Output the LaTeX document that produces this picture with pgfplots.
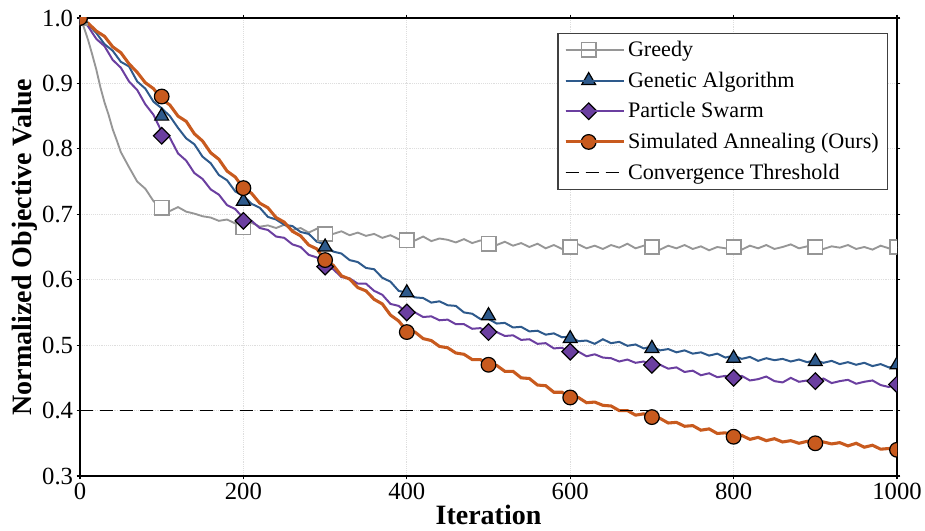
\documentclass[border=0pt]{standalone}
\usepackage{fontspec}
\setmainfont{Liberation Serif}
\usepackage{pgfplots}
\pgfplotsset{compat=1.18}
\definecolor{cGray}{RGB}{150,150,150}
\definecolor{cBlue}{RGB}{46,90,140}
\definecolor{cPurp}{RGB}{107,63,160}
\definecolor{cOran}{RGB}{200,90,30}
\begin{document}
\begin{tikzpicture}
\path[use as bounding box] (-60pt,-41.25pt) rectangle (633.75pt,357pt);
\begin{axis}[
  at={(0,0)}, anchor=south west,
  scale only axis, width=612.75pt, height=343.5pt,
  xmin=0, xmax=1000, ymin=0.3, ymax=1.0,
  xtick={0,200,400,600,800,1000},
  ytick={0.3,0.4,0.5,0.6,0.7,0.8,0.9,1.0},
  yticklabel style={/pgf/number format/.cd,fixed,fixed zerofill,precision=1},
  /pgf/number format/1000 sep={},
  /pgf/number format/assume math mode=true,
  tick label style={font=\rmfamily\fontsize{18.5}{20}\selectfont, inner sep=2.5pt},
  label style={font=\rmfamily\fontsize{21}{23}\selectfont\bfseries},
  xlabel={Iteration}, ylabel={Normalized Objective Value},
  xlabel style={at={(axis description cs:0.5,-0.105)}, anchor=base},
  ylabel style={at={(axis description cs:-0.0588,0.5)}, anchor=base},
  tick align=outside, major tick length=2.5pt, tick style={black, line width=0.8pt},
  axis line style={line width=1.1pt},
  grid=major, major grid style={densely dotted, black!13, line width=0.6pt},
  clip marker paths=true,
  legend style={at={(0.989,0.968)}, anchor=north east, draw=black!75, line width=0.8pt,
    font=\rmfamily\fontsize{16.6}{18}\selectfont, inner xsep=4.5pt, inner ysep=4pt, row sep=6pt,
    cells={anchor=west}},
  legend image code/.code={\draw[mark repeat=2,mark phase=2,#1] plot coordinates {(0cm,0cm)(0.61cm,0cm)(1.22cm,0cm)};
    \path (0cm,0cm) -- (1.22cm+9pt,0cm);},
]
% ---- lines ----
\addplot[cGray, line width=1.4pt, forget plot] table {
0 1.000
5 0.985
10 0.966
15 0.944
20 0.921
25 0.894
30 0.871
35 0.852
40 0.830
45 0.813
50 0.795
60 0.772
70 0.750
80 0.739
90 0.720
100 0.708
110 0.705
120 0.711
130 0.704
140 0.701
150 0.697
160 0.695
170 0.690
180 0.692
190 0.686
200 0.685
210 0.687
220 0.681
230 0.683
240 0.679
250 0.684
260 0.676
270 0.679
280 0.672
290 0.678
300 0.673
310 0.670
320 0.674
330 0.668
340 0.672
350 0.667
360 0.670
370 0.664
380 0.668
390 0.662
400 0.664
410 0.660
420 0.666
430 0.659
440 0.663
450 0.661
460 0.657
470 0.662
480 0.656
490 0.660
500 0.657
510 0.653
520 0.658
530 0.652
540 0.656
550 0.650
560 0.655
570 0.648
580 0.653
590 0.647
600 0.650
610 0.654
620 0.648
630 0.652
640 0.647
650 0.653
660 0.649
670 0.655
680 0.648
690 0.652
700 0.650
710 0.646
720 0.652
730 0.648
740 0.653
750 0.647
760 0.651
770 0.645
780 0.650
790 0.648
800 0.651
810 0.646
820 0.652
830 0.648
840 0.653
850 0.647
860 0.650
870 0.654
880 0.648
890 0.651
900 0.652
910 0.647
920 0.651
930 0.649
940 0.653
950 0.647
960 0.650
970 0.646
980 0.652
990 0.648
1000 0.650
};
\addplot[cBlue, line width=1.5pt, forget plot] table {
0 1.000
10 0.990
20 0.977
30 0.960
40 0.950
50 0.933
60 0.926
70 0.903
80 0.892
90 0.872
100 0.862
110 0.850
120 0.832
130 0.816
140 0.807
150 0.788
160 0.778
170 0.760
180 0.752
190 0.735
200 0.728
210 0.716
220 0.710
230 0.696
240 0.692
250 0.684
260 0.682
270 0.673
280 0.670
290 0.658
300 0.654
310 0.643
320 0.640
330 0.630
340 0.627
350 0.618
360 0.616
370 0.603
380 0.597
390 0.583
400 0.580
410 0.573
420 0.572
430 0.565
440 0.567
450 0.561
460 0.560
470 0.550
480 0.548
490 0.540
500 0.540
510 0.533
520 0.534
530 0.527
540 0.528
550 0.521
560 0.522
570 0.516
580 0.518
590 0.512
600 0.513
610 0.506
620 0.507
630 0.502
640 0.509
650 0.503
660 0.505
670 0.499
680 0.501
690 0.495
700 0.498
710 0.492
720 0.494
730 0.489
740 0.492
750 0.487
760 0.489
770 0.484
780 0.487
790 0.481
800 0.484
810 0.479
820 0.482
830 0.476
840 0.480
850 0.477
860 0.479
870 0.475
880 0.478
890 0.474
900 0.477
910 0.473
920 0.476
930 0.471
940 0.474
950 0.470
960 0.473
970 0.468
980 0.471
990 0.466
1000 0.468
};
\addplot[cPurp, line width=1.5pt, forget plot] table {
0 1.000
10 0.987
20 0.968
30 0.957
40 0.936
50 0.924
60 0.903
70 0.890
80 0.868
90 0.852
100 0.826
110 0.817
120 0.793
130 0.782
140 0.763
150 0.754
160 0.738
170 0.730
180 0.714
190 0.708
200 0.694
210 0.690
220 0.679
230 0.676
240 0.666
250 0.664
260 0.654
270 0.650
280 0.638
290 0.634
300 0.620
310 0.616
320 0.604
330 0.602
340 0.594
350 0.594
360 0.583
370 0.577
380 0.563
390 0.560
400 0.550
410 0.550
420 0.543
430 0.544
440 0.538
450 0.539
460 0.532
470 0.532
480 0.525
490 0.526
500 0.519
510 0.520
520 0.514
530 0.515
540 0.508
550 0.509
560 0.502
570 0.503
580 0.495
590 0.496
600 0.488
610 0.490
620 0.483
630 0.486
640 0.481
650 0.480
660 0.475
670 0.478
680 0.473
690 0.475
700 0.469
710 0.470
720 0.464
730 0.466
740 0.459
750 0.461
760 0.454
770 0.457
780 0.451
790 0.453
800 0.448
810 0.453
820 0.446
830 0.448
840 0.452
850 0.445
860 0.443
870 0.450
880 0.444
890 0.446
900 0.443
910 0.449
920 0.442
930 0.445
940 0.447
950 0.441
960 0.444
970 0.446
980 0.439
990 0.436
1000 0.441
};
\addplot[cOran, line width=2.3pt, forget plot] table {
0 1.000
10 0.992
20 0.980
30 0.972
40 0.956
50 0.947
60 0.930
70 0.917
80 0.901
90 0.892
100 0.876
110 0.867
120 0.850
130 0.842
140 0.823
150 0.812
160 0.794
170 0.784
180 0.766
190 0.757
200 0.740
210 0.732
220 0.717
230 0.710
240 0.695
250 0.688
260 0.674
270 0.667
280 0.653
290 0.647
300 0.630
310 0.622
320 0.606
330 0.601
340 0.588
350 0.583
360 0.570
370 0.563
380 0.546
390 0.537
400 0.522
410 0.520
420 0.510
430 0.507
440 0.498
450 0.496
460 0.488
470 0.486
480 0.478
490 0.478
500 0.470
510 0.469
520 0.460
530 0.460
540 0.450
550 0.449
560 0.439
570 0.438
580 0.428
590 0.428
600 0.420
610 0.420
620 0.412
630 0.413
640 0.408
650 0.407
660 0.400
670 0.400
680 0.393
690 0.395
700 0.388
710 0.388
720 0.381
730 0.382
740 0.376
750 0.377
760 0.370
770 0.372
780 0.365
790 0.366
800 0.360
810 0.362
820 0.356
830 0.359
840 0.354
850 0.357
860 0.352
870 0.354
880 0.350
890 0.353
900 0.348
910 0.352
920 0.349
930 0.351
940 0.346
950 0.350
960 0.344
970 0.347
980 0.341
990 0.342
1000 0.337
};
\addplot[black, line width=1.1pt, dash pattern=on 10pt off 5pt, forget plot] coordinates {(0,0.4) (1000,0.4)};
% ---- markers ----
\addplot[only marks, mark=square*, mark size=5.4pt, mark options={draw=cGray, fill=white, line width=1.2pt}, forget plot] coordinates {
(0,1.0)(100,0.71)(200,0.68)(300,0.67)(400,0.66)(500,0.655)(600,0.65)(700,0.65)(800,0.65)(900,0.65)(1000,0.65)};
\addplot[only marks, mark=triangle*, mark size=6pt, mark options={draw=black, fill=cBlue, line width=0.9pt}, forget plot] coordinates {
(0,1.0)(100,0.85)(200,0.72)(300,0.65)(400,0.58)(500,0.545)(600,0.51)(700,0.495)(800,0.48)(900,0.475)(1000,0.47)};
\addplot[only marks, mark=square*, mark size=4.4pt, mark options={rotate=45, draw=black, fill=cPurp, line width=0.9pt}, forget plot] coordinates {
(0,1.0)(100,0.82)(200,0.69)(300,0.62)(400,0.55)(500,0.52)(600,0.49)(700,0.47)(800,0.45)(900,0.445)(1000,0.44)};
\addplot[only marks, mark=*, mark size=5.5pt, mark options={draw=black, fill=cOran, line width=0.9pt}, forget plot] coordinates {
(0,1.0)(100,0.88)(200,0.74)(300,0.63)(400,0.52)(500,0.47)(600,0.42)(700,0.39)(800,0.36)(900,0.35)(1000,0.34)};
% ---- legend ----
\addlegendimage{cGray, line width=1.4pt, mark=square*, mark size=5.4pt, mark options={draw=cGray, fill=white, line width=1.2pt}}
\addlegendentry{Greedy}
\addlegendimage{cBlue, line width=1.5pt, mark=triangle*, mark size=6pt, mark options={draw=black, fill=cBlue, line width=0.9pt}}
\addlegendentry{Genetic Algorithm}
\addlegendimage{cPurp, line width=1.5pt, mark=square*, mark size=4.4pt, mark options={rotate=45, draw=black, fill=cPurp, line width=0.9pt}}
\addlegendentry{Particle Swarm}
\addlegendimage{cOran, line width=2.3pt, mark=*, mark size=5.5pt, mark options={draw=black, fill=cOran, line width=0.9pt}}
\addlegendentry{Simulated Annealing (Ours)}
\addlegendimage{black, line width=1.1pt, dash pattern=on 10pt off 5pt}
\addlegendentry{Convergence Threshold}
\end{axis}
\end{tikzpicture}
\end{document}
